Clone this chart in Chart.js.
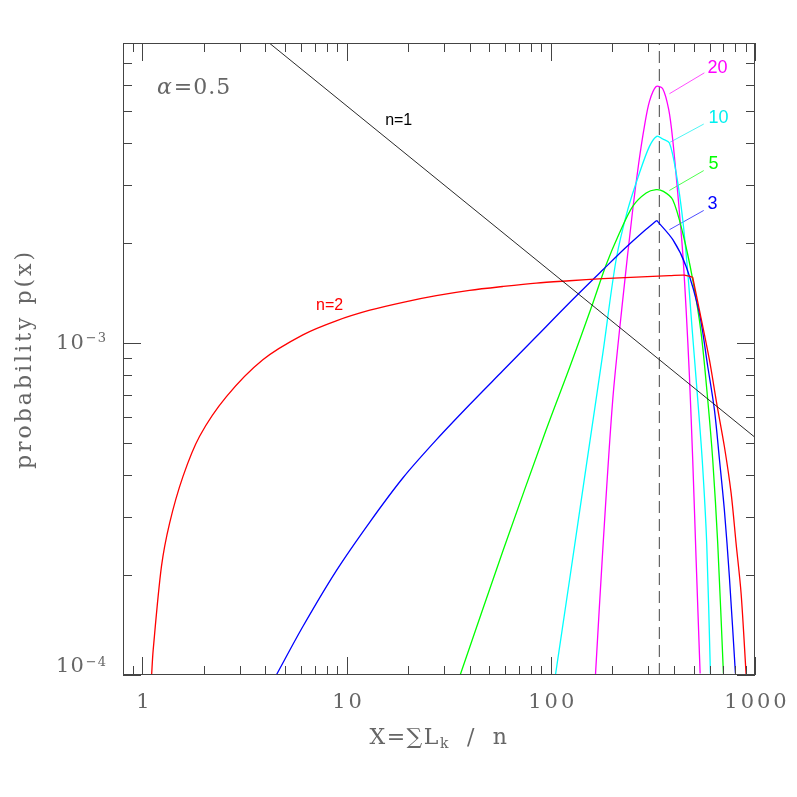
<!DOCTYPE html>
<html>
<head>
<meta charset="utf-8">
<script src="https://cdn.jsdelivr.net/npm/chart.js@4.4.1/dist/chart.umd.min.js"></script>
<style>
  body { margin: 0; background: #fff; }
  canvas { display: block; }
</style>
</head>
<body>
<canvas id="myChart" width="797" height="797"></canvas>
<script>
// values: X and p(x) for each n
const xN1 = [4.1, 1000];
const yN1 = [0.0081, 0.00052];

const xN2 = [1.11, 1.13, 1.24, 1.36, 1.58, 1.91, 2.58, 3.89, 6.11, 8.9, 13.0, 18.9, 27.5, 40.0, 58.2, 84.8, 123.5, 180, 262, 381, 451, 495, 534, 598, 649, 708, 764, 808, 855, 905];
const yN2 = [1.0e-4, 1.19e-4, 2.12e-4, 2.87e-4, 3.96e-4, 5.25e-4, 6.90e-4, 8.91e-4, 1.059e-3, 1.167e-3, 1.256e-3, 1.327e-3, 1.389e-3, 1.441e-3, 1.481e-3, 1.517e-3, 1.541e-3, 1.563e-3, 1.581e-3, 1.596e-3, 1.603e-3, 1.58e-3, 1.26e-3, 8.91e-4, 6.59e-4, 4.88e-4, 3.53e-4, 2.49e-4, 1.76e-4, 1.0e-4];
const n2Kink = 21; // sharp corner at X~495

const xN3 = [4.53, 6.11, 8.9, 13.0, 18.9, 27.5, 40.0, 58.2, 84.8, 123.5, 180, 229.5, 287.4, 330, 396, 460, 534, 587, 633, 670, 708, 749, 802];
const yN3 = [1.0e-4, 1.40e-4, 2.06e-4, 2.89e-4, 3.93e-4, 5.11e-4, 6.52e-4, 8.25e-4, 1.045e-3, 1.323e-3, 1.663e-3, 1.925e-3, 2.181e-3, 2.342e-3, 2.049e-3, 1.702e-3, 1.231e-3, 8.50e-4, 6.29e-4, 4.45e-4, 3.14e-4, 1.98e-4, 1.01e-4];
const n3Peak = 13; // pointed top

const xN5 = [36.0, 58.5, 94.9, 123.5, 157.6, 186.7, 216.9, 251.9, 293.1, 328, 356, 395.5, 442.8, 495.5, 544.7, 586.9, 620.9, 656.9, 700.4];
const yN5 = [1.0e-4, 2.38e-4, 5.48e-4, 8.43e-4, 1.275e-3, 1.722e-3, 2.146e-3, 2.582e-3, 2.833e-3, 2.899e-3, 2.864e-3, 2.704e-3, 2.146e-3, 1.552e-3, 1.072e-3, 6.75e-4, 4.45e-4, 2.49e-4, 1.01e-4];

const xN10 = [105.4, 123.5, 149.1, 179.7, 208.9, 238.2, 271.8, 304.2, 330.2, 353.3, 381, 411.1, 442.8, 469.6, 491.1, 521.3, 551.5, 580.2, 605];
const yN10 = [1.0e-4, 1.93e-4, 4.25e-4, 9.28e-4, 1.783e-3, 2.523e-3, 3.255e-3, 3.915e-3, 4.197e-3, 4.121e-3, 4.009e-3, 3.255e-3, 2.353e-3, 1.607e-3, 1.122e-3, 7.07e-4, 4.45e-4, 2.49e-4, 1.01e-4];

const xN20 = [165.5, 179.7, 201.1, 225.1, 251.9, 269.6, 287.4, 304.2, 328, 353.3, 378.1, 395.5, 418.5, 442.8, 460, 477.5, 495.5, 514.9, 538.6];
const yN20 = [1.0e-4, 2.38e-4, 6.75e-4, 1.350e-3, 2.523e-3, 3.489e-3, 4.498e-3, 5.35e-3, 5.93e-3, 5.84e-3, 5.05e-3, 4.10e-3, 2.833e-3, 1.867e-3, 1.26e-3, 7.93e-4, 4.45e-4, 2.22e-4, 1.01e-4];

// dashed vertical marker
const xMark = [340, 340];
const yMark = [1.0e-4, 0.00802];

// curve labels and their leader lines
const curveLabels = ["20", "10", "5", "3", "n=1", "n=2"];
const curveLabelX = [655, 662, 626, 619, 18.0, 8.26];
const curveLabelY = [6.74e-3, 4.78e-3, 3.46e-3, 2.62e-3, 4.68e-3, 1.296e-3];
const curveLabelColors = ["#ff00ff", "#00f0f0", "#00ff00", "#0000ff", "#000000", "#ff0000"];
const leaderX = [[381, 565], [384, 561], [381, 561], [381, 561]];
const leaderY = [[5.64e-3, 6.52e-3], [4.03e-3, 4.57e-3], [2.884e-3, 3.31e-3], [2.196e-3, 2.51e-3]];

// axes
const xMin = 0.804, xMax = 1000;
const yMin = 1e-4, yMax = 0.00802;
const xTickValues = [1, 10, 100, 1000];
const xTickLabels = ["1", "10", "100", "1000"];
const yTickValues = [1e-3, 1e-4];
const yTickExps = ["\u22123", "\u22124"];

function pts(xs, ys) {
  return xs.map((v, i) => ({ x: v, y: ys[i] }));
}

function curve(xs, ys, color, width, smooth) {
  return {
    data: pts(xs, ys),
    borderColor: color,
    borderWidth: width,
    pointRadius: 0,
    showLine: true,
    fill: false,
    tension: smooth ? 0.3 : 0,
  };
}

const datasets = [
  curve(xN1, yN1, "#111", 0.9, false),
  curve(xN2.slice(0, n2Kink + 1), yN2.slice(0, n2Kink + 1), "#ff0000", 1.3, true),
  curve(xN2.slice(n2Kink), yN2.slice(n2Kink), "#ff0000", 1.3, true),
  curve(xN3.slice(0, n3Peak + 1), yN3.slice(0, n3Peak + 1), "#0000ff", 1.3, true),
  curve(xN3.slice(n3Peak), yN3.slice(n3Peak), "#0000ff", 1.3, true),
  curve(xN5, yN5, "#00ff00", 1.3, true),
  curve(xN10, yN10, "#00ffff", 1.3, true),
  curve(xN20, yN20, "#ff00ff", 1.3, true),
];
const markLine = curve(xMark, yMark, "#444", 1, false);
markLine.borderDash = [12, 6];
datasets.push(markLine);
leaderX.forEach((lx, i) => {
  datasets.push(curve(lx, leaderY[i], curveLabelColors[i], 0.7, false));
});

const serif = '"DejaVu Serif", serif';
const grey = "#666";

function setSpacing(ctx, s) {
  if ("letterSpacing" in ctx) ctx.letterSpacing = s;
}

// frame, inward ticks, tick labels, titles, annotations
const decorations = {
  id: "decorations",
  afterDatasetsDraw(chart) {
    const { ctx, chartArea: a, scales } = chart;
    const x = scales.x, y = scales.y;
    ctx.save();

    // curve labels
    ctx.textAlign = "center";
    ctx.textBaseline = "middle";
    curveLabels.forEach((t, i) => {
      ctx.font = (t.startsWith("n") ? "16px" : "18px") + ' "Liberation Sans", Arial, sans-serif';
      ctx.fillStyle = curveLabelColors[i];
      ctx.fillText(t, x.getPixelForValue(curveLabelX[i]), y.getPixelForValue(curveLabelY[i]));
    });

    // box
    ctx.strokeStyle = "#444";
    ctx.lineWidth = 1;
    ctx.strokeRect(a.left + 0.5, a.top + 0.5, a.right - a.left - 1, a.bottom - a.top - 1);

    ctx.beginPath();
    for (let d = -1; d <= 3; d++) {
      for (let m = 1; m <= 9; m++) {
        const v = m * Math.pow(10, d);
        if (v < xMin || v > xMax * 1.0001) continue;
        const px = Math.round(x.getPixelForValue(v)) + 0.5;
        const len = m === 1 ? 18 : 9;
        ctx.moveTo(px, a.bottom); ctx.lineTo(px, a.bottom - len);
        ctx.moveTo(px, a.top); ctx.lineTo(px, a.top + len);
      }
    }
    for (let d = -5; d <= -2; d++) {
      for (let m = 1; m <= 9; m++) {
        const v = m * Math.pow(10, d);
        if (v < yMin * 0.9999 || v > yMax) continue;
        const py = Math.round(y.getPixelForValue(v)) + 0.5;
        const len = m === 1 ? 18 : 9;
        ctx.moveTo(a.left, py); ctx.lineTo(a.left + len, py);
        ctx.moveTo(a.right, py); ctx.lineTo(a.right - len, py);
      }
    }
    ctx.stroke();

    // x tick labels
    ctx.fillStyle = grey;
    ctx.font = "21px " + serif;
    setSpacing(ctx, "3px");
    ctx.textAlign = "center";
    ctx.textBaseline = "middle";
    xTickValues.forEach((v, i) => {
      ctx.fillText(xTickLabels[i], x.getPixelForValue(v) + 2, a.bottom + 28);
    });

    // y tick labels 10^n
    setSpacing(ctx, "1px");
    yTickValues.forEach((v, i) => {
      let py = y.getPixelForValue(v);
      if (py > a.bottom - 8) py = a.bottom - 8;
      const right = a.left - 16;
      ctx.font = "13px " + serif;
      const supW = ctx.measureText(yTickExps[i]).width;
      ctx.textAlign = "left";
      ctx.fillText(yTickExps[i], right - supW, py - 4);
      ctx.font = "21px " + serif;
      ctx.textAlign = "right";
      ctx.fillText("10", right - supW - 1, py);
    });

    // x title: X=∑L_k / n
    setSpacing(ctx, "1.5px");
    ctx.textAlign = "left";
    const p1 = "X=\u2211L", p3 = "  /  n";
    ctx.font = "22px " + serif;
    const w1 = ctx.measureText(p1).width;
    const w3 = ctx.measureText(p3).width;
    ctx.font = "14px " + serif;
    const w2 = ctx.measureText("k").width;
    const cx = (a.left + a.right) / 2;
    const sx = cx - (w1 + w2 + w3) / 2;
    const ty = a.bottom + 63;
    ctx.font = "22px " + serif;
    ctx.fillText(p1, sx, ty);
    ctx.font = "14px " + serif;
    ctx.fillText("k", sx + w1, ty + 6);
    ctx.font = "22px " + serif;
    ctx.fillText(p3, sx + w1 + w2, ty);

    // y title
    ctx.save();
    setSpacing(ctx, "3px");
    ctx.translate(25, (a.top + a.bottom) / 2);
    ctx.rotate(-Math.PI / 2);
    ctx.textAlign = "center";
    ctx.font = "22px " + serif;
    ctx.fillText("probability p(x)", 0, 0);
    ctx.restore();

    // alpha annotation
    setSpacing(ctx, "1px");
    ctx.textAlign = "left";
    ctx.font = "italic 22px " + serif;
    const aw = ctx.measureText("\u03b1").width;
    ctx.fillText("\u03b1", a.left + 34, a.top + 45);
    ctx.font = "22px " + serif;
    ctx.fillText("=0.5", a.left + 34 + aw + 1, a.top + 45);

    ctx.restore();
  },
};

new Chart(document.getElementById("myChart"), {
  type: "scatter",
  data: { datasets: datasets },
  options: {
    responsive: false,
    animation: false,
    devicePixelRatio: 1,
    layout: { padding: { left: 123, top: 43, right: 42, bottom: 122 } },
    plugins: { legend: { display: false }, tooltip: { enabled: false } },
    scales: {
      x: { type: "logarithmic", min: xMin, max: xMax, display: false },
      y: { type: "logarithmic", min: yMin, max: yMax, display: false },
    },
  },
  plugins: [decorations],
});
</script>
</body>
</html>
